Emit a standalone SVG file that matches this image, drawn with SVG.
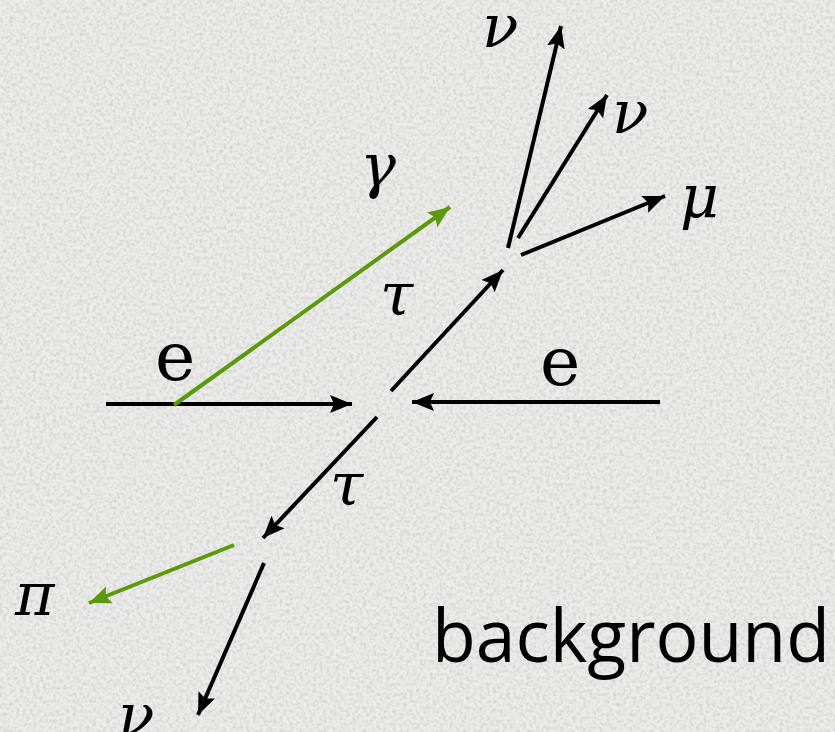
<svg xmlns="http://www.w3.org/2000/svg" width="835" height="732" viewBox="0 0 835 732">
<style>
.blk{stroke:#000;stroke-width:4;fill:none}
.grn{stroke:#5a9a08;stroke-width:4;fill:none}
.greek{font-family:'DejaVu Serif',serif;font-style:italic;font-size:60px;fill:#000}
.lat{font-family:'DejaVu Serif',serif;font-size:68px;fill:#000}
.bgt{font-family:'Open Sans','Liberation Sans',sans-serif;font-size:74px;fill:#000}
</style>
<defs>
<marker id="ab" markerUnits="userSpaceOnUse" markerWidth="24" markerHeight="20" refX="22" refY="10" orient="auto"><path d="M0,1 L22,10 L0,19 L4,10 Z" fill="#000"/></marker>
<marker id="ag" markerUnits="userSpaceOnUse" markerWidth="24" markerHeight="20" refX="22" refY="10" orient="auto"><path d="M0,1 L22,10 L0,19 L4,10 Z" fill="#5a9a08"/></marker>
<filter id="noise" x="0" y="0" width="100%" height="100%">
<feTurbulence type="fractalNoise" baseFrequency="0.3" numOctaves="2" seed="3" result="t"/>
<feColorMatrix type="matrix" values="0 0 0 0 0.5  0 0 0 0 0.5  0 0 0 0 0.48  0 0 0 -2 1.2"/>
</filter>
</defs>
<rect width="835" height="732" fill="#ececea"/>
<rect width="835" height="732" filter="url(#noise)" opacity="0.6"/>
<g id="connectors">
<line class="blk" x1="106" y1="404" x2="352" y2="404" marker-end="url(#ab)"/>
<line class="blk" x1="660" y1="402" x2="412" y2="402" marker-end="url(#ab)"/>
<line class="blk" x1="391" y1="391" x2="503" y2="270" marker-end="url(#ab)"/>
<line class="blk" x1="377" y1="417" x2="263" y2="538" marker-end="url(#ab)"/>
<line class="grn" x1="174" y1="405" x2="450" y2="207" marker-end="url(#ag)"/>
<line class="grn" x1="234" y1="545" x2="89" y2="603" marker-end="url(#ag)"/>
<line class="blk" x1="264" y1="563" x2="198" y2="715" marker-end="url(#ab)"/>
<line class="blk" x1="508" y1="248" x2="561" y2="26" marker-end="url(#ab)"/>
<line class="blk" x1="518" y1="238" x2="607" y2="95" marker-end="url(#ab)"/>
<line class="blk" x1="521" y1="255" x2="665" y2="196" marker-end="url(#ab)"/>
</g>
<g id="label-nu-top"><text class="greek" x="482" y="47">ν</text></g>
<g id="label-nu-mid"><text class="greek" x="612" y="133">ν</text></g>
<g id="label-mu"><text class="greek" x="680" y="218">μ</text></g>
<g id="label-gamma"><text class="greek" x="360" y="187">γ</text></g>
<g id="label-tau-up"><text class="greek" x="380" y="315">τ</text></g>
<g id="label-tau-down"><text class="greek" x="330" y="505">τ</text></g>
<g id="label-pi"><text class="greek" x="15" y="615">π</text></g>
<g id="label-nu-bottom"><text class="greek" x="118" y="736">ν</text></g>
<g id="label-e-left"><text class="lat" x="155" y="380">e</text></g>
<g id="label-e-right"><text class="lat" x="540" y="385">e</text></g>
<g id="label-background"><text class="bgt" x="432" y="662" textLength="398" lengthAdjust="spacingAndGlyphs">background</text></g>
</svg>
